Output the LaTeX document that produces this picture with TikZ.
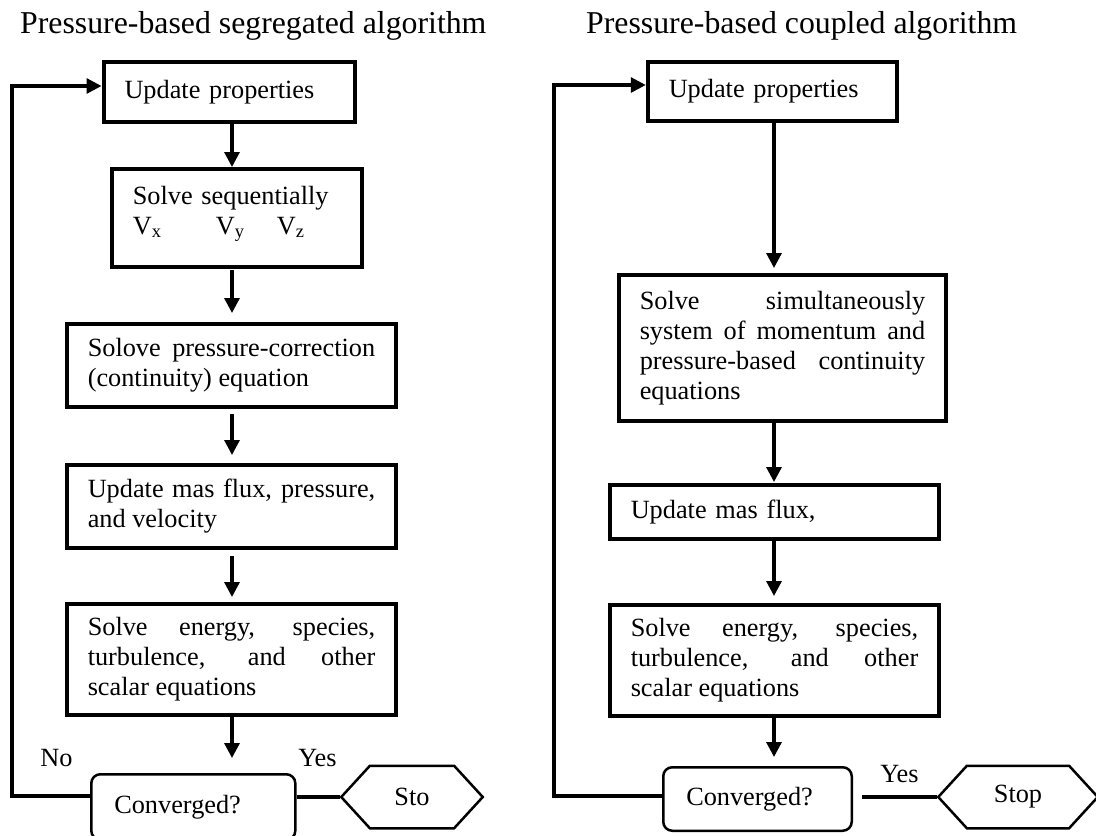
\documentclass[tikz,border=0pt]{standalone}
\usepackage{fontspec}
\setmainfont{Liberation Serif}
\usepackage{tikz}
\usetikzlibrary{arrows.meta,calc,shapes.symbols}
\tolerance=10000
\hyphenpenalty=10000
\exhyphenpenalty=10000
\begin{document}
\begin{tikzpicture}[x=1pt,y=-1pt,>={Triangle[width=15pt,length=15pt]},
  txt/.style={font=\fontsize{26.3}{30}\selectfont},
  box/.style={draw,line width=4pt,txt,inner xsep=21pt,inner ysep=0pt,align=justify},
  cond/.style={draw,line width=2.5pt,rounded corners=9pt,txt,inner xsep=23pt,inner ysep=0pt,align=left},
  term/.style={draw,line width=2.5pt,txt,shape=signal,signal to=west and east,signal pointer angle=95,minimum height=62.5pt,inner sep=0pt},
  flow/.style={->,line width=3.2pt}]
\useasboundingbox (0,0) rectangle (1096,836);
\node[anchor=base west,inner sep=0pt,font=\fontsize{31.8}{36}\selectfont] (tL) at (20,33) {Pressure-based segregated algorithm};
\node[anchor=base west,inner sep=0pt,font=\fontsize{31.8}{36}\selectfont] (tR) at (586,33) {Pressure-based coupled algorithm};
% segregated column
\node[box,align=left,text width=209pt,minimum height=60pt] (L1) at (229,92) {Update properties};
\node[box,align=left,text width=208pt,minimum height=98pt] (L2) at (236.8,218) {Solve sequentially\\\makebox[83pt][l]{V\textsubscript{x}}\makebox[61pt][l]{V\textsubscript{y}}V\textsubscript{z}\rule[-16pt]{0pt}{0pt}};
\node[box,text width=287.5pt,minimum height=83pt] (L3) at (231.5,365.5) {Solove pressure-correction\linebreak (continuity) equation};
\node[box,text width=287.5pt,minimum height=83pt] (L4) at (231.5,506.5) {Update mas flux, pressure,\linebreak and velocity};
\node[box,text width=287.5pt,minimum height=111pt] (L5) at (231.5,659.5) {Solve energy, species,\linebreak turbulence, and other\linebreak scalar equations};
\node[cond,text width=158pt,minimum height=65.5pt] (Lconv) at (193.3,807) {Converged?};
\node[term,minimum width=141.5pt] (Lstop) at (412,797) {Sto};
% coupled column
\node[box,align=left,text width=207.5pt,minimum height=59pt] (R1) at (772.5,91.5) {Update properties};
\node[box,text width=285.5pt,minimum height=146pt] (R2) at (782.5,348) {Solve simultaneously\linebreak system of momentum and\linebreak pressure-based continuity\linebreak equations};
\node[box,align=left,text width=287.5pt,minimum height=54pt] (R3) at (774.5,512) {Update mas flux,};
\node[box,text width=287.5pt,minimum height=111pt] (R4) at (774.5,660.5) {Solve energy, species,\linebreak turbulence, and other\linebreak scalar equations};
\node[cond,text width=142.5pt,minimum height=63.5pt] (Rconv) at (757.5,799) {Converged?};
\node[term,minimum width=159.5pt] (Rstop) at (1018,797) {Stop};
% labels
\node[txt,anchor=base,inner sep=0pt] (no) at (56.5,766) {No};
\node[txt,anchor=base,inner sep=0pt] (yesL) at (317.5,766) {Yes};
\node[txt,anchor=base,inner sep=0pt] (yesR) at (899.5,782) {Yes};
\coordinate (axL) at (232,0);
\coordinate (axR) at (774,0);
\coordinate (lpL) at (12,86);
\coordinate (lpLb) at (12,796);
\coordinate (lpR) at (554,85);
\coordinate (lpRb) at (554,796);
\foreach \a/\b/\sa/\sb in {L1/L2/0/0,L2/L3/1/9,L3/L4/5/8,L4/L5/6/5,L5/Lconv/0/15}
  {\draw[flow,shorten <=\sa pt,shorten >=\sb pt] (\a.south -| axL) -- (\b.north -| axL);}
\foreach \a/\b/\sa/\sb in {R1/R2/0/5,R2/R3/0/1,R3/R4/0/7,R4/Rconv/0/9}
  {\draw[flow,shorten <=\sa pt,shorten >=\sb pt] (\a.south -| axR) -- (\b.north -| axR);}
\draw[flow] (lpLb -| Lconv.west) -- (lpLb) -- (lpL) -- (lpL -| L1.west);
\draw[flow] (lpRb -| Rconv.west) -- (lpRb) -- (lpR) -- (lpR -| R1.west);
\draw[line width=3.2pt] (Lconv.east |- Lstop.west) -- (Lstop.west);
\draw[line width=3.2pt,shorten <=9pt] (Rconv.east |- Rstop.west) -- (Rstop.west);
\end{tikzpicture}
\end{document}
